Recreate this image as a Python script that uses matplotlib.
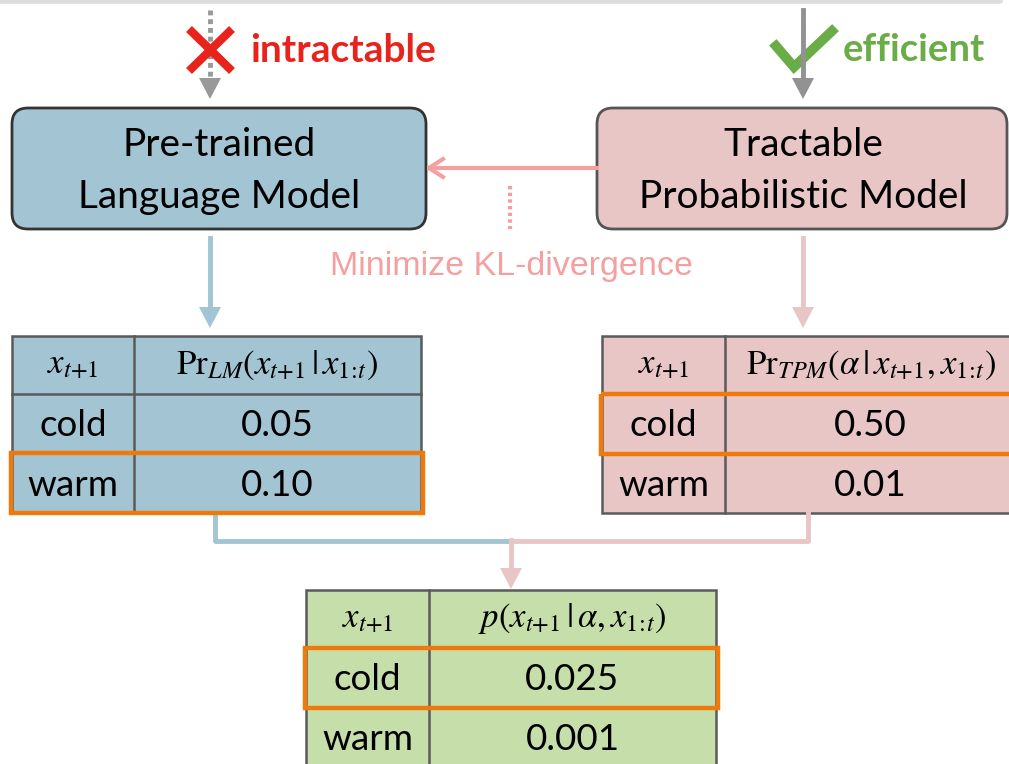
import matplotlib
matplotlib.use("Agg")
from matplotlib import pyplot as plt
from matplotlib.patches import Rectangle, FancyBboxPatch, Polygon

plt.rcParams['mathtext.fontset'] = 'stix'

SANS = 'Lato'

# table contents
col_header = r'$x_{t{+}1}$'
words = ['cold', 'warm']
lm_header = r'$\mathrm{Pr}_{LM}(x_{t{+}1}\,|\,x_{1\!:\!t})$'
lm_probs = ['0.05', '0.10']
tpm_header = r'$\mathrm{Pr}_{TPM}(\alpha\,|\,x_{t{+}1},x_{1\!:\!t})$'
tpm_probs = ['0.50', '0.01']
out_header = r'$p(x_{t{+}1}\,|\,\alpha,x_{1\!:\!t})$'
out_probs = ['0.025', '0.001']

BLUE = '#a2c4d3'
PINK = '#e9c6c6'
GREEN = '#c6dfaa'
SALMON = '#f5a0a0'
ORANGE = '#ef7a0b'
GRID = '#5a5a5a'


def draw_table(ax, x0, xdiv, x1, ys, fill, header, probs, hl):
    ax.add_patch(Rectangle((x0, ys[0]), x1 - x0, ys[-1] - ys[0], fc=fill, ec=GRID, lw=1.8, zorder=2))
    for y in ys[1:-1]:
        ax.plot([x0, x1], [y, y], color=GRID, lw=1.8, zorder=3)
    ax.plot([xdiv, xdiv], [ys[0], ys[-1]], color=GRID, lw=1.8, zorder=3)
    cl = (x0 + xdiv) / 2
    cr = (xdiv + x1) / 2
    ax.text(cl, (ys[0] + ys[1]) / 2, col_header, fontsize=25, ha='center', va='center', zorder=4)
    ax.text(cr, (ys[0] + ys[1]) / 2, header, fontsize=25, ha='center', va='center', zorder=4)
    for i, (w, p) in enumerate(zip(words, probs)):
        yc = (ys[i + 1] + ys[i + 2]) / 2 + 2
        ax.text(cl, yc, w, fontsize=26.5, family=SANS, ha='center', va='center', zorder=4)
        ax.text(cr, yc, p, fontsize=26.5, family=SANS, ha='center', va='center', zorder=4)
    ya, yb = ys[hl + 1], ys[hl + 2]
    ax.add_patch(Rectangle((x0 - 1.5, ya), x1 - x0 + 3, yb - ya, fc='none', ec=ORANGE, lw=3.2, zorder=5))


def down_arrow(ax, x, y0, y1, color, lw=3.5, ls='-', hw=11, hl=21):
    ax.plot([x, x], [y0, y1 - hl + 2], color=color, lw=lw, ls=ls, zorder=3)
    ax.add_patch(Polygon([(x - hw, y1 - hl), (x + hw, y1 - hl), (x, y1)], closed=True,
                         fc=color, ec='none', zorder=3))


fig = plt.figure(figsize=(10.09, 7.64), dpi=100)
ax = fig.add_axes([0, 0, 1, 1])
ax.set_xlim(0, 1009)
ax.set_ylim(764, 0)
ax.axis('off')

# faint top border
ax.plot([0, 1000], [1, 1], color='#dddddd', lw=4, solid_capstyle='round')

# top arrows and labels
down_arrow(ax, 210, 10, 99, '#999999', ls=(0, (1, 0.8)))
ax.plot([189, 232], [29, 71], color='#e8231c', lw=6, solid_capstyle='butt', zorder=4)
ax.plot([189, 232], [71, 29], color='#e8231c', lw=6, solid_capstyle='butt', zorder=4)
ax.text(250, 50, 'intractable', color='#e8231c', fontsize=28, family=SANS, weight='bold',
        ha='left', va='center')

ax.plot([776, 794, 832], [46, 67, 31], color='#6aac45', lw=7, solid_joinstyle='miter', zorder=2)
down_arrow(ax, 803, 10, 99, '#929292')
ax.text(843, 50, 'efficient', color='#6aac45', fontsize=27.5, family=SANS, weight='bold',
        ha='left', va='center')

# model boxes
ax.add_patch(FancyBboxPatch((12, 108), 414, 121, boxstyle='round,pad=0,rounding_size=16',
                            fc=BLUE, ec='#333333', lw=2, zorder=2))
ax.text(219, 171, 'Pre-trained\nLanguage Model', fontsize=28, family=SANS, ha='center',
        va='center', linespacing=1.55, zorder=3)
ax.add_patch(FancyBboxPatch((597, 108), 410, 121, boxstyle='round,pad=0,rounding_size=16',
                            fc=PINK, ec='#555555', lw=2, zorder=2))
ax.text(803, 171, 'Tractable\nProbabilistic Model', fontsize=28, family=SANS, ha='center',
        va='center', linespacing=1.55, zorder=3)

# KL distillation arrow
ax.plot([597, 429], [168, 168], color=SALMON, lw=3, zorder=3)
ax.plot([443, 429, 443], [159, 168, 177], color=SALMON, lw=3, zorder=3)
ax.plot([510, 510], [186, 229], color=SALMON, lw=3, ls=(0, (0.8, 0.8)))
ax.text(511, 267, 'Minimize KL-divergence', color=SALMON, fontsize=24.5,
        family='Liberation Sans', ha='center', va='center')

# arrows down to tables
down_arrow(ax, 210, 238, 328, BLUE)
down_arrow(ax, 803, 238, 328, PINK)

draw_table(ax, 12, 134, 421, [336, 394, 453, 513], BLUE, lm_header, lm_probs, 1)
draw_table(ax, 602, 725, 1016, [336, 394, 454, 513], PINK, tpm_header, tpm_probs, 0)

# merge connectors
ax.plot([215, 215, 511], [513, 541, 541], color=BLUE, lw=3.5, zorder=2)
ax.plot([808, 808, 511], [513, 541, 541], color=PINK, lw=3.5, zorder=2)
down_arrow(ax, 511, 540, 589, PINK)

draw_table(ax, 306, 429, 716, [590, 648, 708, 768], GREEN, out_header, out_probs, 0)

fig.savefig('out.png', dpi=100)
